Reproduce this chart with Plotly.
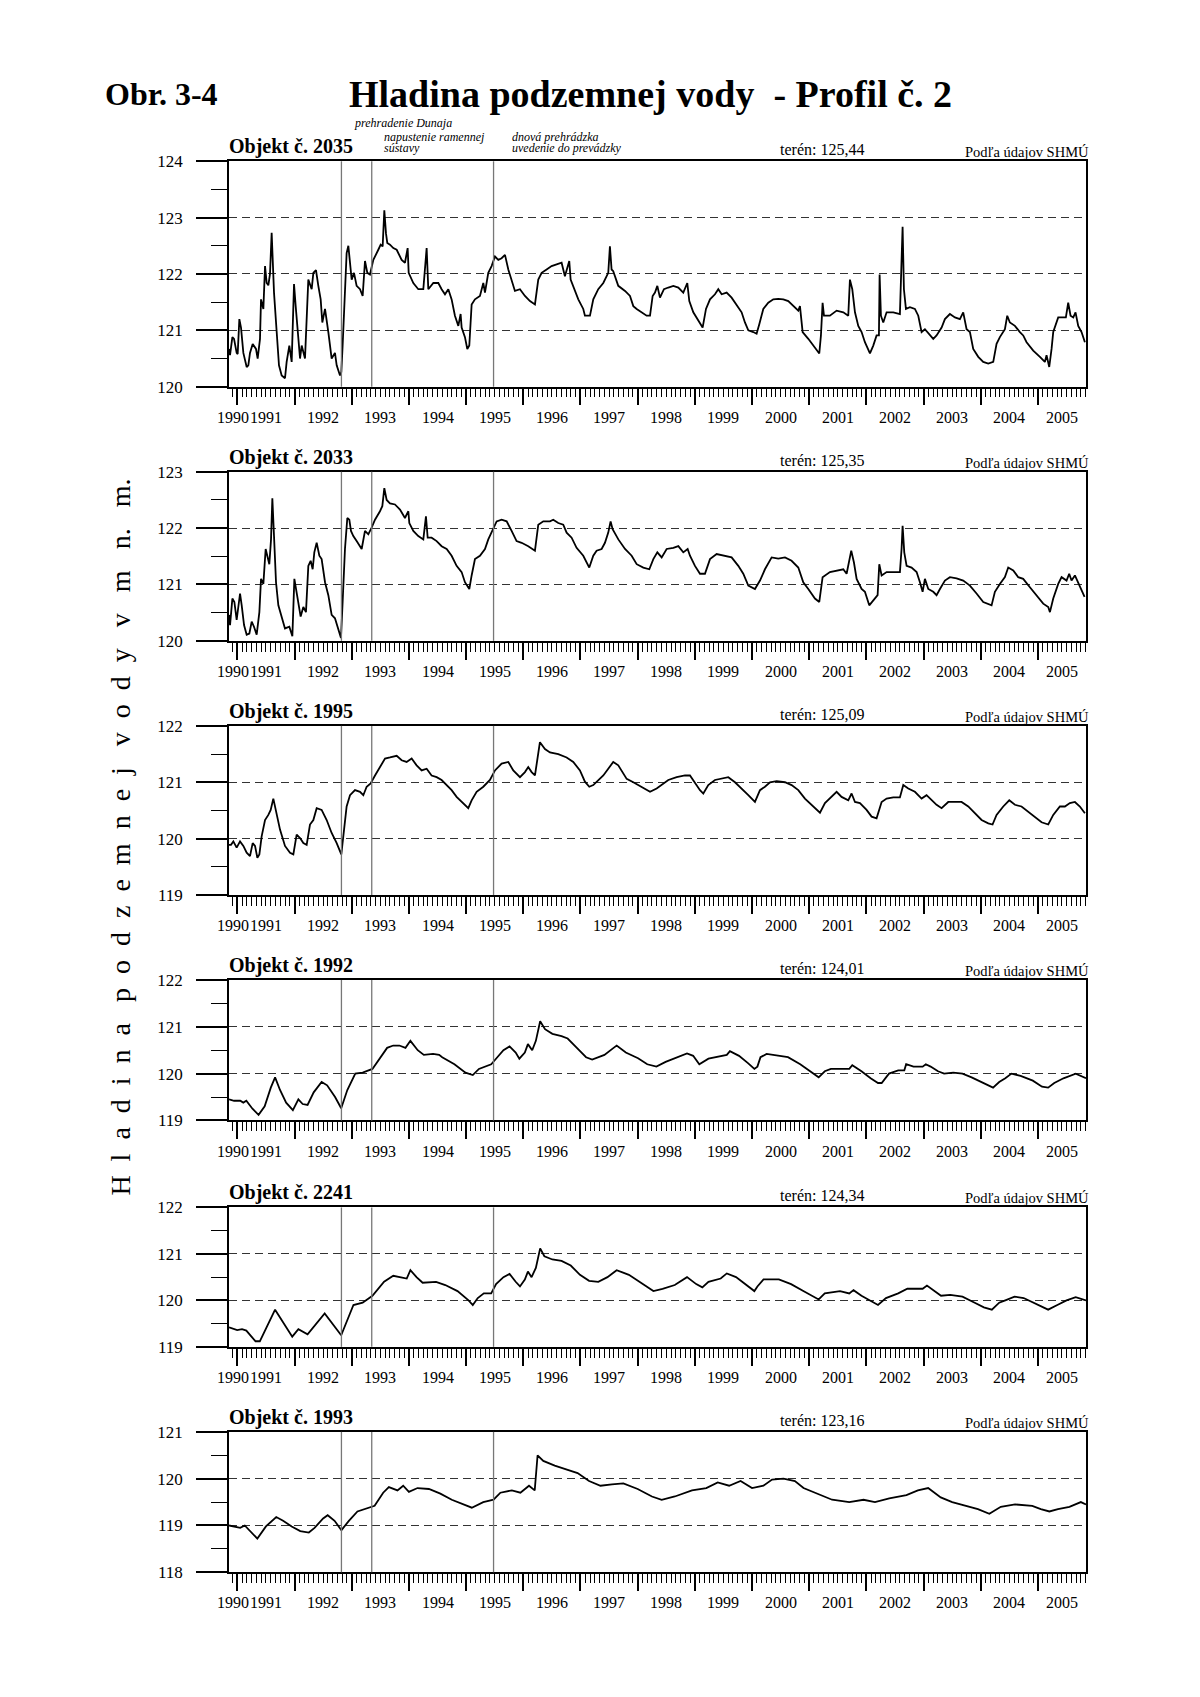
import plotly.graph_objects as go

# ---------------- data (decimal year, water level m a.s.l.) ----------------
obj2035_t = [1990.854,1990.872,1990.913,1990.942,1990.988,1991.006,1991.035,1991.064,1991.105,1991.163,
 1991.192,1991.221,1991.268,1991.326,1991.355,1991.396,1991.414,1991.455,1991.484,1991.513,
 1991.542,1991.571,1991.600,1991.618,1991.641,1991.688,1991.728,1991.775,1991.833,1991.862,
 1991.909,1991.950,1991.991,1992.020,1992.055,1992.096,1992.125,1992.183,1992.241,1992.300,
 1992.329,1992.375,1992.416,1992.457,1992.486,1992.533,1992.591,1992.649,1992.707,1992.737,
 1992.795,1992.818,1992.841,1992.882,1992.911,1992.941,1992.970,1992.999,1993.040,1993.086,
 1993.145,1993.191,1993.232,1993.273,1993.319,1993.378,1993.465,1993.506,1993.541,1993.570,
 1993.599,1993.622,1993.669,1993.727,1993.786,1993.873,1993.931,1993.978,1993.996,1994.077,
 1994.164,1994.252,1994.310,1994.339,1994.427,1994.514,1994.572,1994.631,1994.689,1994.747,
 1994.805,1994.864,1994.904,1994.922,1994.980,1995.021,1995.056,1995.097,1995.155,1995.242,
 1995.301,1995.330,1995.388,1995.446,1995.505,1995.563,1995.621,1995.680,1995.738,1995.796,
 1995.854,1995.942,1996.029,1996.117,1996.204,1996.262,1996.321,1996.408,1996.495,1996.583,
 1996.670,1996.728,1996.804,1996.828,1996.874,1996.962,1997.049,1997.078,1997.166,1997.224,
 1997.311,1997.399,1997.486,1997.515,1997.544,1997.573,1997.661,
 1997.779,1997.866,1997.924,1997.983,1998.070,1998.157,1998.216,1998.262,1998.303,1998.344,
 1998.390,1998.460,1998.536,1998.624,1998.711,1998.798,1998.868,1998.903,1998.973,1999.061,
 1999.136,1999.195,1999.265,1999.352,1999.410,1999.469,1999.556,1999.643,1999.731,1999.818,
 1999.876,1999.935,2000.022,2000.080,2000.127,2000.197,2000.284,2000.372,2000.459,2000.547,
 2000.634,2000.721,2000.809,2000.838,2000.885,2000.984,2001.071,2001.129,2001.176,2001.205,
 2001.234,2001.258,2001.362,2001.479,2001.596,2001.683,2001.712,2001.753,2001.800,2001.858,
 2001.916,2001.974,2002.033,2002.062,2002.120,2002.178,2002.219,2002.231,2002.254,2002.295,
 2002.353,2002.470,2002.586,2002.615,2002.633,2002.656,2002.691,2002.761,2002.848,2002.907,
 2002.965,2003.023,2003.111,2003.169,2003.227,2003.315,2003.373,2003.460,2003.548,2003.635,
 2003.693,2003.752,2003.810,2003.868,2003.956,2004.043,2004.131,2004.218,2004.276,2004.334,
 2004.422,2004.463,2004.509,2004.597,2004.684,2004.742,2004.801,2004.917,2005.034,2005.121,
 2005.150,2005.197,2005.238,2005.267,2005.354,2005.413,2005.488,2005.529,2005.570,2005.617,
 2005.657,2005.704,2005.762,2005.821]
obj2035_h = [120.67,120.56,120.88,120.85,120.6,120.58,121.2,121.05,120.6,120.35,
 120.38,120.6,120.76,120.67,120.5,120.85,121.55,121.38,122.14,121.84,
 121.8,122.0,122.73,122.3,121.67,120.97,120.38,120.2,120.15,120.44,
 120.73,120.44,121.82,121.43,120.97,120.5,120.73,120.5,121.9,121.73,
 122.02,122.07,121.79,121.55,121.14,121.38,120.97,120.5,120.6,120.38,
 120.2,120.26,120.73,121.84,122.37,122.5,122.25,121.9,122.02,121.79,
 121.73,121.61,122.23,122.02,121.99,122.25,122.43,122.52,122.49,123.13,
 122.72,122.55,122.52,122.46,122.43,122.25,122.2,122.46,122.02,121.84,
 121.73,121.73,122.46,121.73,121.84,121.84,121.73,121.64,121.73,121.55,
 121.26,121.08,121.29,121.05,120.88,120.67,120.73,121.46,121.55,121.61,
 121.84,121.67,122.02,122.14,122.31,122.25,122.28,122.34,122.08,121.9,
 121.7,121.73,121.61,121.52,121.46,121.9,122.02,122.08,122.14,122.17,
 122.2,121.96,122.23,121.9,121.79,121.55,121.38,121.26,121.26,121.55,
 121.73,121.84,122.02,122.49,122.08,122.05,121.79,
 121.7,121.61,121.43,121.38,121.32,121.26,121.26,121.61,121.67,121.79,
 121.58,121.73,121.76,121.79,121.76,121.67,121.84,121.52,121.32,121.17,
 121.05,121.38,121.55,121.64,121.73,121.64,121.67,121.58,121.46,121.32,
 121.14,121.0,120.97,120.94,121.11,121.38,121.49,121.55,121.56,121.55,
 121.52,121.43,121.35,121.43,120.97,120.85,120.73,120.64,120.59,120.91,
 121.49,121.26,121.26,121.35,121.32,121.26,121.9,121.73,121.32,121.08,
 120.97,120.79,120.64,120.59,120.73,120.91,120.91,121.99,121.26,121.14,
 121.32,121.32,121.29,122.08,122.84,121.73,121.38,121.41,121.38,121.26,
 120.97,121.02,120.91,120.85,120.91,121.05,121.2,121.29,121.23,121.2,
 121.32,121.02,120.97,120.67,120.53,120.44,120.41,120.44,120.76,120.88,
 121.02,121.26,121.14,121.08,120.97,120.91,120.79,120.64,120.53,120.44,
 120.56,120.35,120.67,120.97,121.23,121.23,121.23,121.49,121.26,121.23,
 121.32,121.08,120.97,120.79]

obj2033_t = [1990.854,1990.872,1990.913,1990.948,1990.988,1991.017,1991.047,1991.076,1991.117,1991.163,
 1991.210,1991.251,1991.291,1991.338,1991.385,1991.414,1991.455,1991.495,1991.524,1991.559,
 1991.589,1991.612,1991.641,1991.676,1991.717,1991.775,1991.833,1991.909,1991.962,1991.997,
 1992.037,1992.066,1992.107,1992.154,1992.200,1992.241,1992.282,1992.317,1992.346,1992.387,
 1992.434,1992.474,1992.533,1992.591,1992.649,1992.707,1992.766,1992.812,1992.841,1992.882,
 1992.923,1992.958,1992.987,1993.028,1993.086,1993.174,1993.232,1993.290,1993.348,1993.407,
 1993.494,1993.535,1993.570,1993.611,1993.669,1993.756,1993.844,1993.931,1993.990,1994.007,
 1994.077,1994.164,1994.252,1994.298,1994.328,1994.397,1994.485,1994.572,1994.660,1994.747,
 1994.834,1994.922,1994.980,1995.056,1995.097,1995.155,1995.242,1995.330,1995.388,1995.476,
 1995.534,1995.621,1995.709,1995.796,1995.883,1995.971,1996.087,1996.204,1996.262,1996.350,
 1996.466,1996.524,1996.612,1996.699,1996.758,1996.845,1996.932,1997.049,1997.154,1997.224,
 1997.282,1997.370,1997.428,1997.486,1997.527,1997.562,1997.632,
 1997.662,1997.779,1997.895,1997.983,1998.099,1998.204,1998.274,1998.344,1998.420,1998.507,
 1998.624,1998.711,1998.798,1998.874,1998.915,1999.002,1999.090,1999.177,1999.265,1999.381,
 1999.498,1999.643,1999.760,1999.847,1999.935,2000.051,2000.139,2000.226,2000.343,2000.459,
 2000.576,2000.692,2000.809,2000.896,2000.984,2001.100,2001.176,2001.234,2001.362,2001.479,
 2001.596,2001.654,2001.700,2001.735,2001.782,2001.829,2001.916,2001.974,2002.050,2002.120,
 2002.196,2002.225,2002.266,2002.353,2002.470,2002.586,2002.615,2002.633,2002.662,2002.703,
 2002.790,2002.878,2002.936,2002.983,2003.023,2003.082,2003.169,2003.227,2003.286,2003.373,
 2003.460,2003.577,2003.693,2003.810,2003.926,2004.043,2004.189,2004.247,2004.334,2004.422,
 2004.480,2004.568,2004.655,2004.742,2004.859,2004.976,2005.092,2005.180,2005.209,2005.267,
 2005.354,2005.413,2005.500,2005.546,2005.587,2005.646,2005.733,2005.815]
obj2033_h = [120.46,120.28,120.75,120.69,120.37,120.57,120.84,120.63,120.28,120.11,
 120.13,120.34,120.25,120.11,120.51,121.1,121.01,121.63,121.51,121.36,
 121.8,122.53,121.86,121.04,120.63,120.4,120.22,120.25,120.08,121.1,
 120.87,120.63,120.43,120.6,120.51,121.33,121.42,121.27,121.57,121.74,
 121.51,121.45,121.04,120.81,120.46,120.4,120.22,120.05,120.69,121.63,
 122.18,122.15,121.95,121.86,121.77,121.63,121.95,121.89,122.01,122.15,
 122.3,122.39,122.71,122.5,122.44,122.42,122.33,122.18,122.3,122.09,
 121.95,121.86,121.8,122.21,121.83,121.83,121.77,121.68,121.63,121.51,
 121.33,121.22,121.04,120.92,121.16,121.45,121.51,121.63,121.8,122.01,
 122.12,122.15,122.12,121.95,121.77,121.74,121.68,121.6,122.06,122.12,
 122.12,122.15,122.09,122.06,121.92,121.83,121.65,121.51,121.3,121.51,
 121.6,121.63,121.74,121.92,122.12,121.98,121.86,
 121.8,121.63,121.51,121.36,121.3,121.27,121.45,121.57,121.48,121.63,
 121.65,121.68,121.57,121.63,121.51,121.33,121.19,121.19,121.45,121.54,
 121.51,121.48,121.33,121.19,120.98,120.92,121.07,121.27,121.48,121.46,
 121.48,121.42,121.3,121.04,120.92,120.75,120.69,121.13,121.22,121.25,
 121.27,121.19,121.39,121.6,121.39,121.1,120.92,120.87,120.63,120.72,
 120.81,121.36,121.16,121.22,121.22,121.22,121.63,122.04,121.57,121.33,
 121.3,121.22,121.04,120.87,121.1,120.92,120.87,120.81,120.92,121.07,
 121.13,121.11,121.07,120.98,120.84,120.69,120.63,120.87,121.01,121.13,
 121.3,121.25,121.13,121.1,120.95,120.81,120.66,120.6,120.51,120.75,
 121.01,121.13,121.07,121.19,121.07,121.16,120.98,120.78]

obj1995_t = [1990.854,1990.889,1990.930,1990.988,1991.047,1991.105,1991.163,1991.221,1991.268,1991.309,
 1991.350,1991.385,1991.425,1991.484,1991.542,1991.583,1991.629,1991.688,1991.746,1991.833,
 1991.921,1991.979,1992.037,1992.096,1992.154,1992.212,1992.270,1992.329,1992.387,1992.474,
 1992.562,1992.649,1992.737,1992.818,1992.865,1992.911,1992.970,1993.057,1993.145,1993.203,
 1993.261,1993.331,1993.407,1993.494,1993.582,1993.669,1993.786,1993.873,1993.960,1994.048,
 1994.135,1994.223,1994.310,1994.397,1994.485,1994.572,1994.660,1994.747,1994.834,1994.951,
 1995.038,1995.097,1995.184,1995.301,1995.417,1995.505,1995.621,1995.738,1995.825,1995.942,
 1996.029,1996.087,1996.146,1996.204,1996.245,1996.291,1996.379,1996.466,1996.612,1996.758,
 1996.874,1996.991,1997.078,1997.154,1997.224,1997.311,1997.399,1997.486,1997.573,1997.661,
 1997.748,
 1997.808,1997.924,1998.099,1998.216,1998.332,1998.420,1998.536,1998.682,1998.828,1998.915,
 1999.002,1999.090,1999.148,1999.235,1999.352,1999.469,1999.585,1999.702,1999.818,1999.935,
 2000.051,2000.139,2000.226,2000.314,2000.430,2000.576,2000.692,2000.809,2000.925,2001.071,
 2001.188,2001.275,2001.392,2001.479,2001.566,2001.683,2001.741,2001.800,2001.887,2002.003,
 2002.091,2002.178,2002.266,2002.353,2002.470,2002.586,2002.645,2002.732,2002.848,2002.965,
 2003.052,2003.140,2003.227,2003.315,2003.431,2003.548,2003.664,2003.781,2003.897,2004.014,
 2004.131,2004.206,2004.276,2004.393,2004.498,2004.597,2004.713,2004.830,2004.946,2005.063,
 2005.180,2005.267,2005.383,2005.471,2005.558,2005.646,2005.733,2005.821]
obj1995_h = [119.89,119.89,119.95,119.84,119.95,119.87,119.75,119.69,119.92,119.87,
 119.66,119.72,120.04,120.33,120.42,120.51,120.71,120.45,120.16,119.87,
 119.75,119.72,120.07,120.01,119.92,119.89,120.25,120.33,120.54,120.51,
 120.33,120.1,119.92,119.72,120.1,120.57,120.77,120.86,120.83,120.77,
 120.92,120.98,121.12,121.27,121.42,121.44,121.47,121.39,121.36,121.42,
 121.3,121.21,121.24,121.12,121.09,121.04,120.95,120.86,120.74,120.63,
 120.54,120.68,120.83,120.92,121.04,121.21,121.33,121.36,121.21,121.09,
 121.18,121.27,121.18,121.12,121.44,121.71,121.59,121.53,121.5,121.44,
 121.36,121.21,121.01,120.92,120.95,121.04,121.12,121.24,121.36,121.3,
 121.15,
 121.06,121.0,120.89,120.83,120.89,120.95,121.04,121.09,121.12,121.12,
 120.98,120.86,120.8,120.95,121.04,121.06,121.09,121.0,120.89,120.77,
 120.65,120.86,120.92,121.0,121.02,121.0,120.95,120.86,120.71,120.57,
 120.46,120.63,120.74,120.83,120.74,120.68,120.8,120.65,120.63,120.51,
 120.39,120.36,120.65,120.71,120.73,120.73,120.95,120.89,120.83,120.71,
 120.77,120.68,120.6,120.54,120.65,120.65,120.65,120.57,120.45,120.33,
 120.27,120.25,120.42,120.57,120.68,120.6,120.57,120.48,120.39,120.29,
 120.25,120.42,120.57,120.57,120.63,120.65,120.57,120.45]

obj1992_t = [1990.855,1990.943,1991.050,1991.104,1991.157,1991.264,1991.371,1991.478,1991.585,1991.660,
 1991.746,1991.853,1991.971,1992.067,1992.142,1992.228,1992.335,1992.474,1992.570,1992.709,
 1992.816,1992.923,1993.062,1993.191,1993.362,1993.512,1993.619,1993.726,1993.833,1993.940,
 1994.026,1994.154,1994.261,1994.422,1994.529,1994.582,1994.796,1994.989,1995.064,1995.117,
 1995.224,1995.439,1995.546,1995.653,1995.760,1995.867,1995.931,1996.027,1996.081,1996.156,
 1996.220,1996.295,1996.380,1996.509,1996.669,1996.776,1996.937,1997.098,1997.205,1997.419,
 1997.579,1997.633,1997.793,1998.007,1998.168,1998.328,1998.489,1998.703,1998.863,1998.971,
 1999.078,1999.238,1999.452,1999.559,1999.613,1999.773,1999.934,2000.041,2000.094,2000.148,
 2000.255,2000.469,2000.629,2000.843,2001.004,2001.165,2001.272,2001.379,2001.700,2001.753,
 2001.914,2002.074,2002.203,2002.267,2002.395,2002.556,2002.663,2002.695,2002.824,2002.984,
 2003.038,2003.123,2003.252,2003.359,2003.519,2003.680,2003.840,2004.054,2004.215,2004.322,
 2004.429,2004.536,2004.696,2004.910,2005.071,2005.178,2005.285,2005.446,2005.606,2005.660,
 2005.84]
obj1992_h = [119.45,119.42,119.42,119.38,119.42,119.25,119.12,119.3,119.7,119.92,
 119.65,119.38,119.22,119.45,119.35,119.33,119.6,119.82,119.75,119.5,
 119.26,119.65,120.0,120.02,120.1,120.35,120.55,120.6,120.6,120.55,
 120.7,120.5,120.4,120.42,120.4,120.35,120.2,120.02,120.0,119.97,
 120.1,120.2,120.35,120.5,120.58,120.45,120.32,120.45,120.63,120.5,
 120.7,121.12,120.95,120.85,120.8,120.75,120.55,120.35,120.3,120.4,
 120.55,120.6,120.45,120.33,120.2,120.15,120.25,120.35,120.43,120.38,
 120.2,120.32,120.38,120.4,120.48,120.38,120.22,120.1,120.15,120.35,
 120.42,120.38,120.35,120.2,120.05,119.92,120.05,120.1,120.1,120.18,
 120.05,119.9,119.8,119.8,120.0,120.07,120.07,120.2,120.15,120.15,
 120.2,120.15,120.05,120.0,120.02,120.0,119.92,119.8,119.7,119.82,
 119.9,120.0,119.95,119.85,119.72,119.7,119.8,119.9,119.98,120.0,
 119.9]

obj2241_t = [1990.855,1990.997,1991.082,1991.157,1991.318,1991.393,1991.660,1991.960,1992.067,1992.228,
 1992.527,1992.816,1993.030,1993.191,1993.362,1993.566,1993.726,1993.887,1993.962,1994.026,
 1994.133,1994.240,1994.475,1994.636,1994.850,1995.043,1995.117,1995.204,1995.310,1995.439,
 1995.524,1995.653,1995.760,1995.867,1995.942,1996.027,1996.081,1996.145,1996.220,1996.295,
 1996.369,1996.509,1996.669,1996.830,1996.991,1997.151,1997.312,1997.472,1997.633,1997.847,
 1998.007,1998.168,1998.275,1998.435,1998.649,1998.863,1999.024,1999.131,1999.238,1999.452,
 1999.559,1999.720,1999.934,2000.041,2000.094,2000.201,2000.469,2000.683,2000.897,2001.165,
 2001.272,2001.539,2001.700,2001.775,2001.914,2002.128,2002.203,2002.342,2002.556,2002.716,
 2002.984,2003.059,2003.166,2003.305,2003.466,2003.680,2003.894,2004.054,2004.194,2004.322,
 2004.429,2004.590,2004.750,2004.910,2005.071,2005.178,2005.339,2005.499,2005.660,2005.84]
obj2241_h = [119.42,119.36,119.38,119.35,119.12,119.12,119.8,119.22,119.38,119.27,
 119.72,119.25,119.9,119.95,120.1,120.4,120.53,120.5,120.47,120.65,
 120.5,120.38,120.4,120.33,120.2,120.0,119.9,120.05,120.15,120.15,
 120.35,120.5,120.57,120.4,120.3,120.45,120.62,120.5,120.7,121.12,
 120.95,120.88,120.85,120.75,120.55,120.42,120.4,120.5,120.65,120.55,
 120.42,120.3,120.2,120.25,120.33,120.5,120.35,120.28,120.4,120.47,
 120.58,120.5,120.3,120.2,120.3,120.45,120.45,120.35,120.2,120.02,
 120.15,120.2,120.15,120.22,120.1,119.95,119.9,120.05,120.15,120.25,
 120.25,120.32,120.22,120.1,120.12,120.08,119.95,119.85,119.8,119.95,
 120.0,120.08,120.05,119.95,119.85,119.8,119.9,120.0,120.07,120.0]

obj1993_t = [1990.855,1990.95,1991.05,1991.13,1991.25,1991.35,1991.5,1991.68,1991.8,1991.95,
 1992.1,1992.25,1992.35,1992.5,1992.58,1992.7,1992.82,1992.95,1993.1,1993.3,
 1993.4,1993.55,1993.65,1993.8,1993.9,1994.0,1994.15,1994.35,1994.55,1994.75,
 1994.95,1995.1,1995.3,1995.48,1995.6,1995.8,1995.95,1996.1,1996.2,1996.25,
 1996.35,1996.55,1996.75,1996.95,1997.15,1997.35,1997.55,1997.75,1998.0,1998.25,
 1998.42,1998.65,1998.95,1999.2,1999.4,1999.6,1999.8,2000.0,2000.2,2000.35,
 2000.55,2000.75,2000.9,2001.1,2001.4,2001.7,2001.95,2002.15,2002.4,2002.7,
 2002.9,2003.08,2003.3,2003.5,2003.75,2003.95,2004.15,2004.35,2004.6,2004.9,
 2005.05,2005.2,2005.35,2005.55,2005.75,2005.84]
obj1993_h = [119.0,118.98,118.95,119.0,118.85,118.72,118.98,119.18,119.1,118.98,
 118.88,118.85,118.95,119.15,119.22,119.1,118.9,119.1,119.3,119.38,
 119.42,119.7,119.82,119.75,119.85,119.72,119.8,119.78,119.68,119.55,
 119.45,119.38,119.5,119.55,119.7,119.75,119.7,119.85,119.75,120.5,
 120.38,120.28,120.2,120.12,119.95,119.85,119.88,119.9,119.78,119.62,
 119.55,119.62,119.75,119.8,119.92,119.85,119.95,119.8,119.85,119.98,
 120.0,119.95,119.8,119.7,119.55,119.5,119.55,119.5,119.58,119.65,
 119.75,119.8,119.6,119.5,119.42,119.35,119.25,119.4,119.45,119.42,
 119.35,119.3,119.35,119.4,119.5,119.45]

objects = ["Objekt č. 2035", "Objekt č. 2033", "Objekt č. 1995",
           "Objekt č. 1992", "Objekt č. 2241", "Objekt č. 1993"]
teren = ["terén: 125,44", "terén: 125,35", "terén: 125,09",
         "terén: 124,01", "terén: 124,34", "terén: 123,16"]
y_ranges = [(120, 124), (120, 123), (119, 122), (119, 122), (119, 122), (118, 121)]
series_t = [obj2035_t, obj2033_t, obj1995_t, obj1992_t, obj2241_t, obj1993_t]
series_h = [obj2035_h, obj2033_h, obj1995_h, obj1992_h, obj2241_h, obj1993_h]

event_t = [1992.82, 1993.35, 1995.48]
event_notes = [["prehradenie Dunaja"], ["napustenie ramennej", "sústavy"],
               ["dnová prehrádzka", "uvedenie do prevádzky"]]
year_labels = ["1990", "1991", "1992", "1993", "1994", "1995", "1996", "1997",
               "1998", "1999", "2000", "2001", "2002", "2003", "2004", "2005"]
x_range = (1990.854, 2005.84)

# ---------------- layout (pixels) ----------------
W, H = 1200, 1697
FONT = "Liberation Serif"
PLOT_L, PLOT_R = 229, 1086
panel_px = [(154, 382), (468, 639), (725, 896), (982, 1124), (1212, 1353), (1439, 1581)]

def px(x):
    return x / W

def py(y):
    return 1 - y / H

fig = go.Figure()
layout = dict(width=W, height=H, margin=dict(l=0, r=0, t=0, b=0),
              paper_bgcolor="white", plot_bgcolor="white", showlegend=False,
              font=dict(family=FONT, color="black"))
annotations = []
shapes = []

for i in range(6):
    k = i + 1
    top, bot = panel_px[i]
    xa = "xaxis" if k == 1 else f"xaxis{k}"
    ya = "yaxis" if k == 1 else f"yaxis{k}"
    xr = "x" if k == 1 else f"x{k}"
    yr = "y" if k == 1 else f"y{k}"
    y0, y1 = y_ranges[i]
    layout[xa] = dict(domain=[px(PLOT_L), px(PLOT_R)], range=list(x_range), anchor=yr,
                      showline=True, linecolor="black", linewidth=1.5, mirror=True,
                      ticks="outside", tickmode="linear", tick0=1991, dtick=1,
                      ticklen=17, tickwidth=1.6, tickcolor="black",
                      showticklabels=False, showgrid=False, zeroline=False,
                      minor=dict(ticks="outside", tick0=1991, dtick=1 / 12, ticklen=9,
                                 tickwidth=1, tickcolor="black", showgrid=False))
    layout[ya] = dict(domain=[py(bot), py(top)], range=[y0, y1], anchor=xr,
                      showline=True, linecolor="black", linewidth=1.5, mirror=True,
                      ticks="outside", tickmode="linear", tick0=y0, dtick=1,
                      ticklen=31, tickwidth=1.6, tickcolor="black",
                      tickfont=dict(family=FONT, size=17, color="black"),
                      ticklabelstandoff=10,
                      showgrid=True, gridcolor="#333333", gridwidth=1, griddash="8px,5px",
                      zeroline=False,
                      minor=dict(ticks="outside", dtick=0.5, ticklen=16, tickwidth=1.4,
                                 tickcolor="black", showgrid=False))

    fig.add_trace(go.Scatter(x=series_t[i], y=series_h[i], mode="lines",
                             line=dict(color="black", width=1.8),
                             xaxis=xr, yaxis=yr, hoverinfo="skip"))

    for ev in event_t:
        shapes.append(dict(type="line", xref=xr, yref=f"{yr} domain", x0=ev, x1=ev,
                           y0=0, y1=1, line=dict(color="#777777", width=1.3), layer="above"))

    annotations.append(dict(text=f"<b>{objects[i]}</b>", x=px(PLOT_L - 2), y=py(top - 1),
                            xref="paper", yref="paper", xanchor="left", yanchor="bottom",
                            showarrow=False, font=dict(family=FONT, size=20)))
    annotations.append(dict(text=teren[i], x=px(822), y=py(top - 1),
                            xref="paper", yref="paper", xanchor="center", yanchor="bottom",
                            showarrow=False, font=dict(family=FONT, size=16)))
    annotations.append(dict(text="Podľa údajov SHMÚ", x=px(1091), y=py(top + 1),
                            xref="paper", yref="paper", xanchor="right", yanchor="bottom",
                            showarrow=False, font=dict(family=FONT, size=14.5)))
    for lab in year_labels:
        a = max(float(lab), x_range[0])
        b = min(float(lab) + 1, x_range[1])
        annotations.append(dict(text=lab, x=(a + b) / 2, y=py(bot + 31), xref=xr, yref="paper",
                                xanchor="center", yanchor="middle", showarrow=False,
                                font=dict(family=FONT, size=16)))

# event notes above the first panel
note_pos = [(352, [115]), (382, [129, 141]), (510, [129, 141])]
for (xp, ys), lines in zip(note_pos, event_notes):
    for yy, line in zip(ys, lines):
        annotations.append(dict(text=f"<i>{line}</i>", x=px(xp), y=py(yy), xref="paper",
                                yref="paper", xanchor="left", yanchor="middle",
                                showarrow=False, font=dict(family=FONT, size=12)))

# titles
annotations.append(dict(text="<b>Obr. 3-4</b>", x=px(103), y=py(86), xref="paper", yref="paper",
                        xanchor="left", yanchor="middle", showarrow=False,
                        font=dict(family=FONT, size=32)))
annotations.append(dict(text="<b>Hladina podzemnej vody  - Profil č. 2</b>", x=px(650), y=py(86),
                        xref="paper", yref="paper", xanchor="center", yanchor="middle",
                        showarrow=False, font=dict(family=FONT, size=38)))

# vertical axis title (letter-spaced)
words = ["Hladina", "podzemnej", "vody", "v", "m", "n.", "m."]
nb = "\u00a0"

def spaced(w):
    core, tail = (w[:-1], ".") if w.endswith(".") else (w, "")
    return (nb * 2).join(list(core)) + tail

ytitle = (nb * 3).join(spaced(w) for w in words)
annotations.append(dict(text=ytitle, x=px(121), y=py(838), xref="paper", yref="paper",
                        xanchor="center", yanchor="middle", textangle=-90, showarrow=False,
                        font=dict(family=FONT, size=28)))

layout["annotations"] = annotations
layout["shapes"] = shapes
fig.update_layout(**layout)

fig.write_html("out.html", config={"displayModeBar": False},
               post_script="document.body.style.margin='0px';")
